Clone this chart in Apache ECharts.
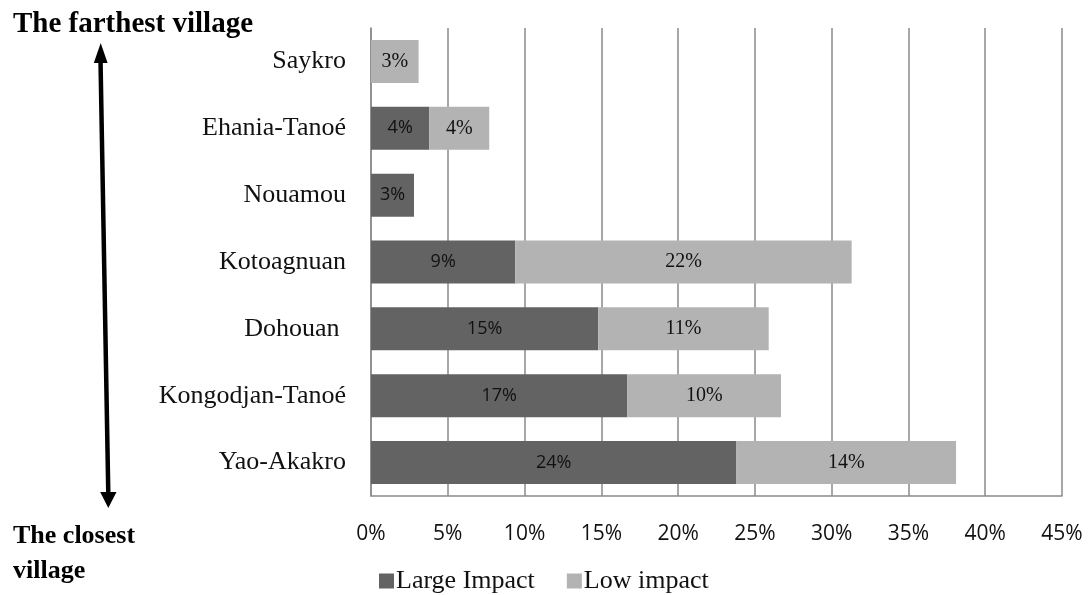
<!DOCTYPE html>
<html>
<head>
<meta charset="utf-8">
<script src="https://cdn.jsdelivr.net/npm/echarts@6/dist/echarts.min.js"></script>
<style>html,body{margin:0;padding:0;background:#fff;}#c{width:1089px;height:595px;}</style>
</head>
<body>
<div id="c"></div>
<script>
// Categories listed top to bottom (farthest village first)
const villages = ['Saykro', 'Ehania-Tanoé', 'Nouamou', 'Kotoagnuan', 'Dohouan ', 'Kongodjan-Tanoé', 'Yao-Akakro'];
const largeImpact = [null, 3.8, 2.8, 9.4, 14.8, 16.7, 23.8];
const lowImpact = [3.1, 3.9, null, 21.9, 11.1, 10.0, 14.3];
const seriesNames = ['Large Impact', 'Low impact'];
const xTicks = { min: 0, max: 45, interval: 5 };

const chart = echarts.init(document.getElementById('c'), null, { renderer: 'canvas' });
const gridCol = '#8a8a8a';
const pct = p => (p.value == null ? '' : Math.round(p.value) + '%');

chart.setOption({
  animation: false,
  backgroundColor: '#ffffff',
  grid: { left: 371, right: 27, top: 28, bottom: 99 },
  xAxis: {
    type: 'value', min: xTicks.min, max: xTicks.max, interval: xTicks.interval,
    axisLine: { show: true, lineStyle: { color: gridCol, width: 1.5 } },
    axisTick: { show: false },
    splitLine: { show: true, lineStyle: { color: gridCol, width: 1.5 } },
    axisLabel: { formatter: v => v + '%', color: '#111', fontFamily: 'Open Sans', fontSize: 21, margin: 28 }
  },
  yAxis: {
    type: 'category', data: villages, inverse: true,
    axisLine: { show: true, lineStyle: { color: gridCol, width: 1.5 } },
    axisTick: { show: false },
    axisLabel: { color: '#111', fontFamily: 'Liberation Serif', fontSize: 26, margin: 25 }
  },
  legend: {
    left: 374, top: 563, itemWidth: 15, itemHeight: 15, itemGap: 32, icon: 'rect',
    textStyle: { fontFamily: 'Liberation Serif', fontSize: 26, color: '#111', padding: [0, 0, 0, -3] },
    data: seriesNames
  },
  series: [
    {
      name: seriesNames[0], type: 'bar', stack: 'all', data: largeImpact, barWidth: 43,
      itemStyle: { color: '#636363' },
      label: { show: true, position: 'inside', formatter: pct, color: '#111', fontFamily: 'Open Sans', fontSize: 18 }
    },
    {
      name: seriesNames[1], type: 'bar', stack: 'all', data: lowImpact, barWidth: 43,
      itemStyle: { color: '#b3b3b3' },
      label: { show: true, position: 'inside', formatter: pct, color: '#111', fontFamily: 'Liberation Serif', fontSize: 20 }
    }
  ],
  graphic: [
    { type: 'text', left: 13, top: 10, style: { text: 'The farthest village', font: 'bold 29px "Liberation Serif"', fill: '#000' } },
    { type: 'text', left: 13, top: 519, style: { text: 'The closest\nvillage', font: 'bold 26px "Liberation Serif"', fill: '#000', lineHeight: 35 } },
    { type: 'line', shape: { x1: 100.5, y1: 60, x2: 108.3, y2: 494 }, style: { stroke: '#000', lineWidth: 4.5 } },
    { type: 'polygon', shape: { points: [[100.7, 43], [93.8, 63], [107.6, 63]] }, style: { fill: '#000' } },
    { type: 'polygon', shape: { points: [[108.3, 508], [100.2, 492], [116.5, 492]] }, style: { fill: '#000' } }
  ]
});
</script>
</body>
</html>
